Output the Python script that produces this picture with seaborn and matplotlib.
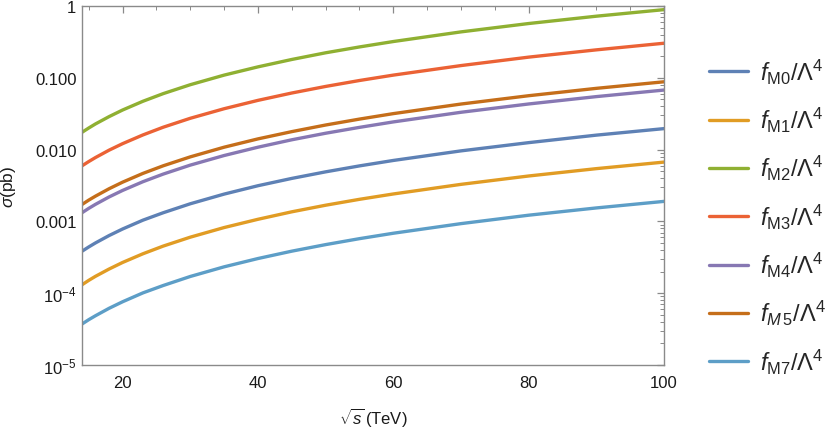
import numpy as np
import pandas as pd
import matplotlib
matplotlib.use("Agg")
import matplotlib.pyplot as plt
import matplotlib.ticker as mticker
import seaborn as sns

# ---- data ----
sqrt_s = [14, 15, 16, 18, 20, 23, 26, 30, 35, 40, 45, 50, 55, 60, 70, 80, 90, 100]

f_M0 = [3.84e-4, 4.41e-4, 5.02e-4, 6.35e-4, 7.84e-4, 1.04e-3, 1.32e-3, 1.76e-3, 2.40e-3, 3.14e-3,
        3.97e-3, 4.90e-3, 5.93e-3, 7.06e-3, 9.60e-3, 1.25e-2, 1.59e-2, 1.96e-2]
f_M1 = [1.31e-4, 1.51e-4, 1.72e-4, 2.17e-4, 2.68e-4, 3.54e-4, 4.53e-4, 6.03e-4, 8.21e-4, 1.07e-3,
        1.36e-3, 1.68e-3, 2.03e-3, 2.41e-3, 3.28e-3, 4.29e-3, 5.43e-3, 6.70e-3]
f_M2 = [0.0174, 0.0200, 0.0228, 0.0288, 0.0356, 0.0471, 0.0602, 0.0801, 0.109, 0.142,
        0.180, 0.223, 0.269, 0.320, 0.436, 0.570, 0.721, 0.890]
f_M3 = [5.94e-3, 6.82e-3, 7.76e-3, 9.82e-3, 0.0121, 0.0160, 0.0205, 0.0273, 0.0371, 0.0485,
        0.0614, 0.0758, 0.0917, 0.109, 0.148, 0.194, 0.245, 0.303]
f_M4 = [1.32e-3, 1.52e-3, 1.73e-3, 2.19e-3, 2.70e-3, 3.57e-3, 4.56e-3, 6.08e-3, 8.27e-3, 0.0108,
        0.0137, 0.0169, 0.0204, 0.0243, 0.0331, 0.0432, 0.0547, 0.0675]
f_M5 = [1.72e-3, 1.98e-3, 2.25e-3, 2.85e-3, 3.52e-3, 4.66e-3, 5.95e-3, 7.92e-3, 0.0108, 0.0141,
        0.0178, 0.0220, 0.0266, 0.0317, 0.0431, 0.0563, 0.0713, 0.0880]
f_M7 = [3.72e-5, 4.28e-5, 4.86e-5, 6.16e-5, 7.60e-5, 1.01e-4, 1.28e-4, 1.71e-4, 2.33e-4, 3.04e-4,
        3.85e-4, 4.75e-4, 5.75e-4, 6.84e-4, 9.31e-4, 1.22e-3, 1.54e-3, 1.90e-3]

series_labels = [r"$f_{\mathrm{M0}}/\Lambda^4$", r"$f_{\mathrm{M1}}/\Lambda^4$",
                 r"$f_{\mathrm{M2}}/\Lambda^4$", r"$f_{\mathrm{M3}}/\Lambda^4$",
                 r"$f_{\mathrm{M4}}/\Lambda^4$", r"$f_{M\,\mathrm{5}}/\Lambda^4$",
                 r"$f_{\mathrm{M7}}/\Lambda^4$"]
series_values = [f_M0, f_M1, f_M2, f_M3, f_M4, f_M5, f_M7]
colors = ["#5E81B5", "#E19C24", "#8FB032", "#EB6235", "#8778B3", "#C56E1A", "#5D9EC7"]

y_ticks = [1e-5, 1e-4, 1e-3, 1e-2, 1e-1, 1]
y_tick_labels = [r"$10^{-5}$", r"$10^{-4}$", "0.001", "0.010", "0.100", "1"]
x_ticks = [20, 40, 60, 80, 100]

# ---- long-form table ----
rows = []
for lab, vals in zip(series_labels, series_values):
    for x, v in zip(sqrt_s, vals):
        rows.append({"sqrt_s": x, "sigma": v, "series": lab})
df = pd.DataFrame(rows)

sns.set_theme(style="white")
plt.rcParams["font.family"] = ["Liberation Sans", "DejaVu Sans"]
plt.rcParams["mathtext.fontset"] = "custom"
plt.rcParams["mathtext.rm"] = "Liberation Sans"
plt.rcParams["mathtext.it"] = "Liberation Sans:italic"
plt.rcParams["mathtext.bf"] = "Liberation Sans:bold"

fig = plt.figure(figsize=(8.30, 4.31), dpi=100)
ax = fig.add_axes([82 / 830, 1 - 366 / 431, (664 - 82) / 830, (366 - 7) / 431])

sns.lineplot(data=df, x="sqrt_s", y="sigma", hue="series", hue_order=series_labels,
             palette=colors, linewidth=2.4, ax=ax, legend=False, estimator=None)

ax.set_yscale("log")
ax.set_xlim(14, 100)
ax.set_ylim(1e-5, 1)

frame_col = "#8a8a8a"
for sp in ax.spines.values():
    sp.set_color(frame_col)
    sp.set_linewidth(1.0)

ax.set_xticks(x_ticks)
ax.xaxis.set_minor_locator(mticker.MultipleLocator(5))
ax.set_yticks(y_ticks)
ax.set_yticklabels(y_tick_labels)
ax.yaxis.set_minor_locator(mticker.LogLocator(base=10, subs=np.arange(2, 10), numticks=20))
ax.yaxis.set_minor_formatter(mticker.NullFormatter())

ax.tick_params(which="both", direction="in", top=True, right=True, colors=frame_col,
               labelcolor="#1a1a1a", labelsize=12)
ax.tick_params(which="major", length=5, width=0.9)
ax.tick_params(axis="x", which="major", pad=7)
ax.tick_params(axis="y", which="major", pad=4)
ax.tick_params(which="minor", length=2.8, width=0.7)

ax.set_xlabel(r"$\sqrt{s}\,$(TeV)", fontsize=12, color="#1a1a1a", labelpad=11)
ax.set_ylabel(r"$\sigma$(pb)", fontsize=12.5, color="#1a1a1a")
ax.yaxis.set_label_coords(-0.11, 0.5)

handles = [plt.Line2D([0], [0], color=c, lw=2.4) for c in colors]
fig.legend(handles, series_labels, loc="center left", bbox_to_anchor=(700 / 830, 1 - 217 / 431),
           frameon=False, fontsize=17, handlelength=1.65, handletextpad=0.5,
           labelspacing=0.815, borderaxespad=0)

fig.savefig("out.png", dpi=100)
